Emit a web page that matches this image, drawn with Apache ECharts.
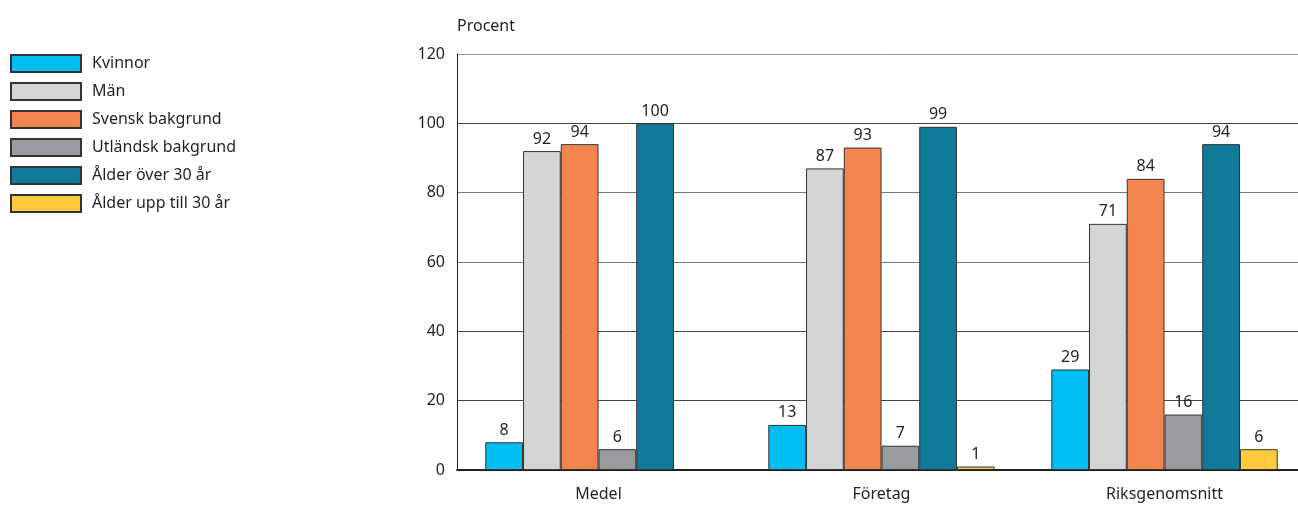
<!DOCTYPE html>
<html><head><meta charset="utf-8">
<script src="https://cdn.jsdelivr.net/npm/echarts@6/dist/echarts.min.js"></script>
<style>html,body{margin:0;padding:0;background:#fff;overflow:hidden}#c{width:1306px;height:506px}</style>
</head><body><div id="c"></div>
<script>
const categories = ['Medel', 'Företag', 'Riksgenomsnitt'];
const seriesNames = ['Kvinnor', 'Män', 'Svensk bakgrund', 'Utländsk bakgrund', 'Ålder över 30 år', 'Ålder upp till 30 år'];
const kvinnor = [8, 13, 29];
const man = [92, 87, 71];
const svensk = [94, 93, 84];
const utlandsk = [6, 7, 16];
const over30 = [100, 99, 94];
const upp30 = [null, 1, 6];
const yTicks = [0, 20, 40, 60, 80, 100, 120];
const colors = ['#00BDF2', '#D4D5D7', '#F5854F', '#9A9B9E', '#0F7A9A', '#FFCB3D'];
const values = [kvinnor, man, svensk, utlandsk, over30, upp30];
const font = 'Noto Sans';

const chart = echarts.init(document.getElementById('c'));
chart.setOption({
  animation: false,
  textStyle: { fontFamily: font },
  legend: {
    orient: 'vertical', left: 10, top: 54, padding: 0,
    icon: 'rect',
    itemWidth: 70, itemHeight: 17, itemGap: 9,
    textStyle: { fontSize: 16, lineHeight: 17, color: '#231f20', fontFamily: font, padding: [0, 0, 0, 6] },
    data: seriesNames
  },
  grid: { left: 457, right: 0, top: 54, bottom: 36, containLabel: false },
  xAxis: {
    type: 'category', data: categories,
    axisTick: { show: false },
    axisLine: { lineStyle: { color: '#231f20', width: 2 } },
    axisLabel: { fontSize: 16, color: '#231f20', margin: 16, fontFamily: font }
  },
  yAxis: {
    type: 'value', min: yTicks[0], max: yTicks[yTicks.length - 1], interval: 20,
    name: 'Procent', nameLocation: 'end', nameGap: 20,
    nameTextStyle: { fontSize: 16, color: '#231f20', align: 'left', fontFamily: font },
    axisLine: { show: true, lineStyle: { color: '#231f20', width: 1 } },
    axisTick: { show: false },
    axisLabel: { fontSize: 16, color: '#231f20', margin: 12, fontFamily: font },
    splitLine: { lineStyle: { color: ['#444', '#444', '#444', '#777', '#777', '#444', '#999'], width: 1 } }
  },
  series: seriesNames.map((n, i) => ({
    name: n, type: 'bar', data: values[i],
    barGap: '0%', barCategoryGap: '20%',
    itemStyle: { color: colors[i], borderColor: '#333', borderWidth: 1 },
    label: { show: true, position: 'top', fontSize: 16, color: '#231f20', distance: 4, fontFamily: font }
  }))
});
</script></body></html>
